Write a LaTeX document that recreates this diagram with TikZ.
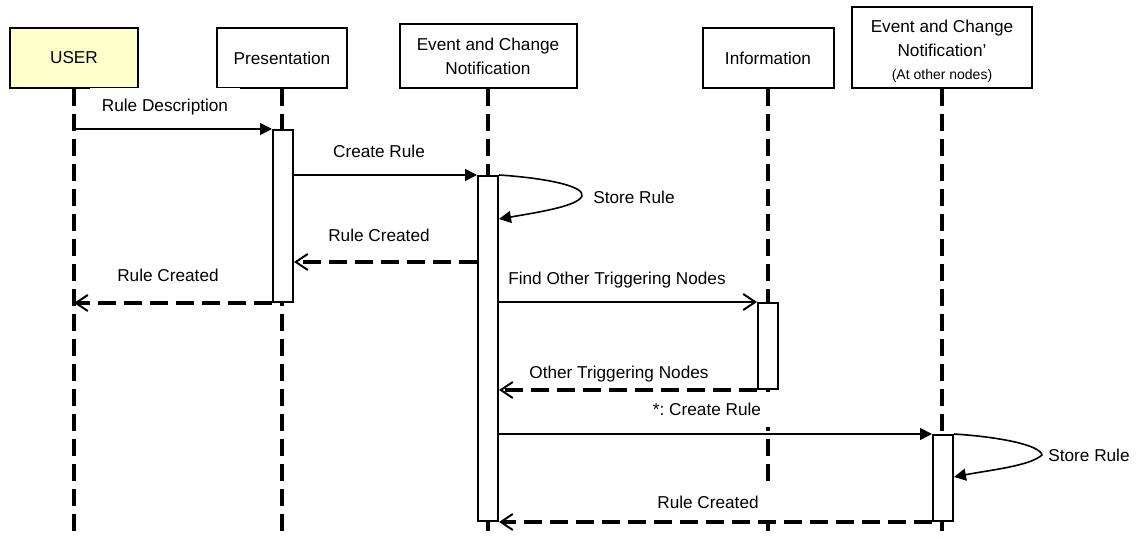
\documentclass[tikz,border=0pt]{standalone}
\usepackage{fontspec}
\setmainfont{Liberation Sans}
\usetikzlibrary{arrows.meta}
\definecolor{useryellow}{RGB}{255,255,204}

\begin{document}
\begin{tikzpicture}[x=0.5pt,y=-0.5pt,
    every node/.style={font=\fontsize{8.6}{12}\selectfont},
    head/.style={draw,line width=1pt,minimum height=30pt,align=center,inner sep=2pt},
    lifeline/.style={line width=2pt,dash pattern=on 8.5pt off 4pt},
    actbar/.style={draw,fill=white,line width=1pt,minimum width=10pt,inner sep=0pt},
    msg/.style={line width=0.8pt,-{Triangle[length=6pt,width=6pt]}},
    found/.style={line width=0.8pt,-{Straight Barb[length=6pt,width=8pt,line width=1pt]}},
    reply/.style={line width=1.8pt,dash pattern=on 9pt off 4pt,-{Straight Barb[length=6pt,width=8pt,line width=1pt]}},
    lbl/.style={fill=white,inner xsep=6pt,inner ysep=4pt,text height=0.75em,text depth=0.2em}]
    \useasboundingbox (0,0) rectangle (1136,539);

    % Heads
    \node[head,fill=useryellow,minimum width=64pt] (user) at (74,58) {USER};
    \node[head,minimum width=65pt] (pres) at (282,58) {Presentation};
    \node[head,minimum width=88.5pt,minimum height=32pt] (ecn) at (488,56) {Event and Change\\Notification};
    \node[head,minimum width=65.5pt] (info) at (768,58) {Information};
    \node[head,minimum width=90pt,minimum height=40.5pt,font=\fontsize{8.6}{11.8}\selectfont] (ecnb) at (942,47.5)
        {\rule{0pt}{10pt}Event and Change\\Notification'\\{\fontsize{7}{10}\selectfont (At other nodes)}};

    % Lifelines
    \coordinate (bottom) at (0,545);
    \foreach \n in {user,pres,ecn,info,ecnb}
        \draw[lifeline] (\n.south) -- (\n.south |- bottom);

    % Labels
    \node[lbl] (l1) at (165,106) {Rule Description};
    \node[lbl] (l2) at (379,152) {Create Rule};
    \node[lbl] (l3) at (634,198) {Store Rule};
    \node[lbl] (l4) at (379,236) {Rule Created};
    \node[lbl] (l5) at (168,276) {Rule Created};
    \node[lbl] (l6) at (617,279) {Find Other Triggering Nodes};
    \node[lbl] (l7) at (619,373) {Other Triggering Nodes};
    \node[lbl] (l8) at (707,410) {*:\ Create Rule};
    \node[lbl] (l9) at (1089,456) {Store Rule};
    \node[lbl] (l10) at (708,503) {Rule Created};

    % Activations
    \node[actbar,minimum height=86pt] (actp) at (283,216) {};
    \node[actbar,minimum height=172.5pt] (acte) at (488,348.5) {};
    \node[actbar,minimum height=43pt] (acti) at (768,346) {};
    \node[actbar,minimum height=43pt] (acteb) at (943,478) {};

    % Rows and loop tips
    \coordinate (r3) at (0,219);
    \coordinate (r4) at (0,262);
    \coordinate (r9) at (0,477);
    \coordinate (loopa) at (582,196);
    \coordinate (loopb) at (1042,455);

    % Messages
    \draw[msg] (user.south |- actp.north) -- (actp.north west);
    \draw[msg] (actp.east |- acte.north) -- (acte.north west);
    \draw[msg] (acte.north east) .. controls (545,178) and (585,186) .. (loopa)
        .. controls (578,206) and (540,212) .. (acte.east |- r3);
    \draw[reply] (acte.west |- r4) -- (actp.east |- r4);
    \draw[reply] (actp.south west) -- (user.south |- actp.south);
    \draw[found] (acte.east |- acti.north) -- (acti.north west);
    \draw[reply] (acti.south west) -- (acte.east |- acti.south);
    \draw[msg] (acte.east |- acteb.north) -- (acteb.north west);
    \draw[msg] (acteb.north east) .. controls (1000,437) and (1040,445) .. (loopb)
        .. controls (1030,466) and (990,470) .. (acteb.east |- r9);
    \draw[reply] (acteb.south west) -- (acte.east |- acteb.south);
\end{tikzpicture}
\end{document}
